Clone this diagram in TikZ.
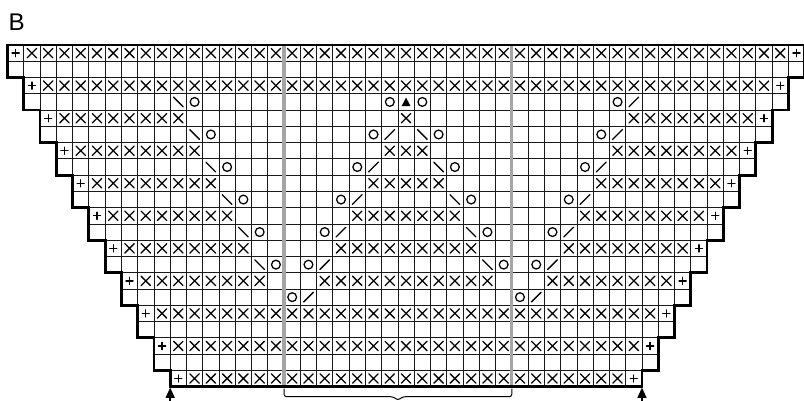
\documentclass[tikz,border=0pt]{standalone}
\usepackage{fontspec}
\setmainfont{Liberation Sans}
\usepackage{tikz}
\usetikzlibrary{arrows.meta}
\definecolor{repgray}{RGB}{165,165,165}

\begin{document}
\begin{tikzpicture}[
  x=4.5mm, y=4.5mm,
  gridline/.style={draw=black!90, line width=0.6pt, step=4.5mm},
  outline/.style={draw=black, line width=2.2pt, line join=miter},
  repline/.style={draw=repgray, line width=2.6pt},
  sym/.style={line width=1pt, line cap=round},
  uparrow/.style={-{Triangle[length=8pt,width=7pt]}, line width=1.2pt},
  bracket/.style={draw=black, line width=0.8pt, rounded corners=2pt},
  pics/xst/.style={code={\draw[sym] (-0.29,-0.29) -- (0.29,0.29) (-0.29,0.29) -- (0.29,-0.29);}},
  pics/plusst/.style={code={\draw[sym] (-0.22,0) -- (0.22,0) (0,-0.22) -- (0,0.22);}},
  pics/yo/.style={code={\draw[sym] (0,0) circle (0.27);}},
  pics/ldec/.style={code={\draw[sym] (-0.3,0.3) -- (0.3,-0.3);}},
  pics/rdec/.style={code={\draw[sym] (-0.3,-0.3) -- (0.3,0.3);}},
  pics/tridec/.style={code={\fill (-0.27,-0.25) -- (0.27,-0.25) -- (0,0.27) -- cycle;}}
]
\useasboundingbox (-0.461,-21.881) rectangle (48.96,2.766);

\node[font=\fontsize{19}{22}\selectfont, anchor=base west, inner sep=0pt] (title) at (0.05,0.9) {B};

% grid, two rows per step
\foreach \k in {1,...,10}
  \draw[gridline] (\k-1,-2*\k+2) grid (50-\k,-2*\k);
\draw[gridline] (10,-20) grid (39,-21);

% repeat lines
\draw[repline] (17,0) -- (17,-21);
\draw[repline] (31,0) -- (31,-21);

% edge stitches
\foreach \k in {1,...,11} {
  \pic at (\k-0.5,-2*\k+1.5) {plusst};
  \pic at (49.5-\k,-2*\k+1.5) {plusst};
}

% full rows
\foreach \k [evaluate=\k as \a using int(\k+1), evaluate=\k as \b using int(49-\k)] in {1,2,9,10,11}
  \foreach \c in {\a,...,\b}
    \pic at (\c-0.5,-2*\k+1.5) {xst};

% rows with gaps
\foreach \k [evaluate=\k as \m using int(\k-3), evaluate=\k as \mn using int(3-\k)] in {3,...,8} {
  \foreach \i in {1,...,8} {
    \pic at (\k+\i-0.5,-2*\k+1.5) {xst};
    \pic at (49.5-\k-\i,-2*\k+1.5) {xst};
  }
  \foreach \j in {\mn,...,\m}
    \pic at (24.5+\j,-2*\k+1.5) {xst};
}

% lace rows
\foreach \k in {2,...,7} {
  \pic at (8.5+\k,-2*\k+0.5) {ldec};
  \pic at (9.5+\k,-2*\k+0.5) {yo};
  \pic at (39.5-\k,-2*\k+0.5) {yo};
  \pic at (40.5-\k,-2*\k+0.5) {rdec};
}
\foreach \k in {3,...,7} {
  \pic at (25.5-\k,-2*\k+0.5) {yo};
  \pic at (26.5-\k,-2*\k+0.5) {rdec};
  \pic at (22.5+\k,-2*\k+0.5) {ldec};
  \pic at (23.5+\k,-2*\k+0.5) {yo};
}
\pic at (23.5,-3.5) {yo};
\pic at (24.5,-3.5) {tridec};
\pic at (25.5,-3.5) {yo};
\pic at (17.5,-15.5) {yo};
\pic at (18.5,-15.5) {rdec};
\pic at (31.5,-15.5) {yo};
\pic at (32.5,-15.5) {rdec};

% outline
\draw[outline] (0,0) \foreach \k in {1,...,10} { |- (\k,-2*\k) }
  -- (10,-21) -- (39,-21) -- (39,-20)
  \foreach \k in {10,...,1} { -| ({50-\k},{-2*\k+2}) } -- cycle;

% markers below
\coordinate (arrL) at (10,-21.88);
\coordinate (tipL) at (10,-21.06);
\coordinate (arrR) at (39,-21.88);
\coordinate (tipR) at (39,-21.06);
\draw[uparrow] (arrL) -- (tipL);
\draw[uparrow] (arrR) -- (tipR);

\coordinate (brL) at (17,-21.12);
\coordinate (brR) at (31,-21.12);
\coordinate (brM) at (24,-21.84);
\draw[bracket] (brL) |- (23.7,-21.62) -- (brM) -- (24.3,-21.62) -| (brR);
\end{tikzpicture}
\end{document}
